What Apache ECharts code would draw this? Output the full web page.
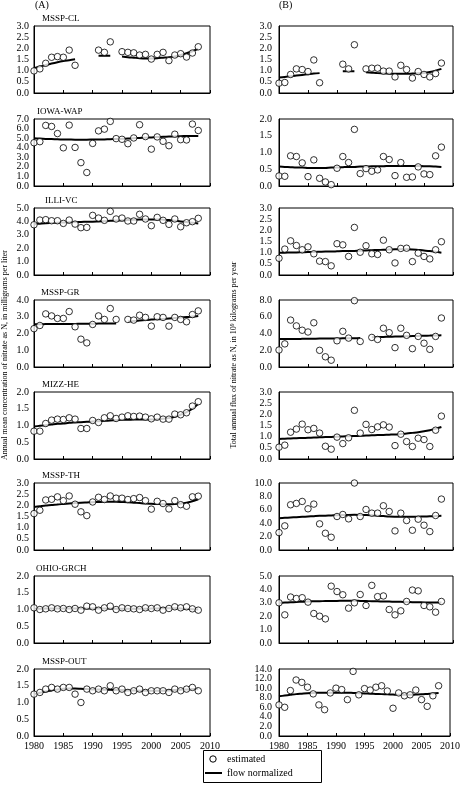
<!DOCTYPE html>
<html><head><meta charset="utf-8">
<script src="https://cdn.jsdelivr.net/npm/echarts@6/dist/echarts.min.js"></script>
<style>html,body{margin:0;padding:0;background:#fff}#c{width:463px;height:790px}</style>
</head><body><div id="c"></div>
<script>
const years = [1980,1981,1982,1983,1984,1985,1986,1987,1988,1989,1990,1991,1992,1993,1994,1995,1996,1997,1998,1999,2000,2001,2002,2003,2004,2005,2006,2007,2008];
const siteNames = ['MSSP-CL','IOWA-WAP','ILLI-VC','MSSP-GR','MIZZ-HE','MSSP-TH','OHIO-GRCH','MSSP-OUT'];
const xTicks = [1980,1985,1990,1995,2000,2005,2010];

// Column A: concentration (mg/L)
const clConc   = [0.99,1.08,1.33,1.6,1.63,1.6,1.92,1.24,null,null,null,1.92,1.82,2.29,null,1.85,1.82,1.8,1.7,1.73,1.52,1.73,1.82,1.45,1.7,1.76,1.61,1.79,2.07];
const clConcFN = [1.11,1.18,1.25,1.32,1.38,1.43,1.47,1.51,null,null,null,1.67,1.67,1.67,null,1.63,1.6,1.58,1.56,1.55,1.55,1.56,1.58,1.6,1.64,1.7,1.78,1.87,1.98];
const iowaConc   = [4.52,4.63,6.33,6.22,5.48,3.99,6.36,4.03,2.44,1.41,4.45,5.76,5.94,6.75,4.95,4.88,4.42,5.02,6.4,5.16,3.85,5.13,4.67,4.21,5.41,4.84,4.81,6.47,5.8];
const iowaConcFN = [4.98,4.95,4.92,4.9,4.88,4.86,4.85,4.84,4.84,4.84,4.85,4.86,4.87,4.89,4.91,4.93,4.96,4.99,5.02,5.05,5.08,5.11,5.14,5.17,5.19,5.21,5.22,5.23,5.23];
const illiConc   = [3.75,4.1,4.13,4.05,4.05,3.85,4.1,3.8,3.53,3.55,4.45,4.25,4.08,4.75,4.18,4.25,4.03,4.03,4.53,4.18,3.68,4.3,4.08,3.78,4.18,3.6,3.9,3.98,4.23];
const illiConcFN = [3.8,3.83,3.86,3.88,3.9,3.92,3.94,3.95,3.96,3.97,3.98,4.0,4.02,4.04,4.06,4.08,4.1,4.12,4.14,4.15,4.15,4.15,4.13,4.1,4.05,4.0,3.95,3.9,3.85];
const grConc   = [2.29,2.48,3.17,3.05,2.9,2.9,3.31,2.4,1.66,1.44,2.54,3.05,2.84,3.49,2.84,null,2.84,2.8,3.09,2.96,2.44,3.0,2.96,2.44,2.96,2.84,2.7,3.13,3.35];
const grConcFN = [2.55,2.55,2.56,2.56,2.56,2.57,2.57,2.57,2.58,2.58,2.58,2.59,2.59,2.6,2.6,null,2.72,2.74,2.77,2.8,2.83,2.85,2.87,2.9,2.92,2.95,2.98,3.01,3.05];
const mizzConc   = [0.83,0.83,1.06,1.16,1.19,1.18,1.23,1.19,0.91,0.91,1.15,1.09,1.23,1.29,1.21,1.25,1.29,1.27,1.28,1.25,1.2,1.25,1.19,1.19,1.34,1.32,1.38,1.58,1.71];
const mizzConcFN = [0.97,0.99,1.01,1.03,1.05,1.06,1.08,1.09,1.1,1.11,1.12,1.13,1.14,1.15,1.16,1.17,1.17,1.18,1.18,1.18,1.18,1.19,1.2,1.22,1.26,1.32,1.4,1.5,1.65];
const thConc   = [1.63,1.78,2.24,2.27,2.38,2.21,2.42,2.05,1.71,1.54,2.15,2.36,2.26,2.42,2.32,2.32,2.26,2.3,2.35,2.21,1.83,2.18,2.08,1.84,2.21,2.03,1.96,2.38,2.41];
const thConcFN = [1.93,1.96,1.99,2.01,2.04,2.06,2.08,2.1,2.12,2.13,2.14,2.15,2.16,2.16,2.16,2.15,2.14,2.12,2.1,2.08,2.07,2.06,2.05,2.05,2.06,2.08,2.12,2.18,2.27];
const ohioConc   = [1.05,1.0,1.02,1.05,1.02,1.03,1.0,1.03,0.98,1.1,1.08,0.98,1.05,1.1,1.0,1.05,1.03,1.02,1.0,1.05,1.03,1.05,0.98,1.03,1.08,1.05,1.08,1.02,0.98];
const ohioConcFN = [1.02,1.02,1.03,1.03,1.03,1.03,1.03,1.03,1.03,1.03,1.03,1.03,1.03,1.03,1.02,1.02,1.02,1.02,1.02,1.02,1.03,1.03,1.04,1.04,1.04,1.03,1.02,1.01,1.0];
const outConc   = [1.25,1.3,1.4,1.45,1.4,1.45,1.45,1.25,1.0,1.4,1.35,1.4,1.35,1.5,1.35,1.4,1.3,1.35,1.4,1.3,1.35,1.35,1.35,1.3,1.4,1.35,1.4,1.45,1.35];
const outConcFN = [1.25,1.29,1.33,1.36,1.39,1.41,1.42,1.42,1.41,1.4,1.39,1.39,1.38,1.38,1.37,1.37,1.36,1.36,1.35,1.35,1.35,1.35,1.35,1.36,1.37,1.38,1.39,1.4,1.41];

// Column B: flux (10^9 kg/yr)
const clFlux   = [0.44,0.47,0.83,1.08,1.05,0.96,1.48,0.46,null,null,null,1.29,1.08,2.16,null,1.08,1.11,1.11,0.98,0.98,0.72,1.24,1.05,0.67,0.96,0.83,0.72,0.87,1.34];
const clFluxFN = [0.69,0.72,0.75,0.78,0.81,0.84,0.87,0.89,null,null,null,0.97,0.97,0.97,null,0.93,0.91,0.89,0.88,0.87,0.86,0.86,0.86,0.87,0.88,0.9,0.94,1.0,1.08];
const iowaFlux   = [0.3,0.29,0.9,0.88,0.69,0.28,0.78,0.23,0.12,0.04,0.53,0.88,0.7,1.69,0.37,0.52,0.44,0.48,0.88,0.79,0.31,0.7,0.26,0.27,0.57,0.36,0.34,0.9,1.16];
const iowaFluxFN = [0.58,0.57,0.56,0.55,0.55,0.54,0.54,0.54,0.54,0.55,0.55,0.56,0.57,0.57,0.58,0.58,0.59,0.59,0.59,0.6,0.6,0.6,0.6,0.6,0.6,0.59,0.59,0.58,0.57];
const illiFlux   = [0.75,1.16,1.53,1.32,1.13,1.26,0.95,0.62,0.6,0.41,1.4,1.35,0.83,2.13,1.02,1.31,0.95,0.92,1.56,1.13,0.54,1.19,1.2,0.6,0.98,0.83,0.72,1.13,1.49];
const illiFluxFN = [1.0,1.0,1.01,1.01,1.02,1.03,1.03,1.04,1.05,1.05,1.06,1.07,1.07,1.08,1.09,1.1,1.11,1.12,1.13,1.14,1.15,1.15,1.15,1.14,1.12,1.1,1.07,1.04,1.0];
const grFlux   = [2.03,2.76,5.6,4.91,4.39,4.18,5.28,1.99,1.22,0.81,3.13,4.26,3.45,7.92,3.05,null,3.53,3.29,4.63,4.1,2.31,4.63,3.78,2.19,3.65,2.84,2.11,3.65,5.85];
const grFluxFN = [3.33,3.34,3.35,3.35,3.36,3.37,3.38,3.39,3.39,3.4,3.41,3.42,3.43,3.44,3.45,null,3.55,3.57,3.59,3.61,3.63,3.65,3.67,3.69,3.71,3.73,3.75,3.77,3.78];
const mizzFlux   = [0.53,0.62,1.2,1.34,1.56,1.31,1.37,1.16,0.57,0.44,0.98,0.69,0.95,2.18,1.16,1.55,1.32,1.44,1.53,1.43,0.6,1.11,0.78,0.56,0.93,0.87,0.56,1.29,1.92];
const mizzFluxFN = [0.9,0.91,0.92,0.93,0.94,0.95,0.96,0.97,0.98,0.99,1.0,1.01,1.02,1.03,1.04,1.05,1.06,1.07,1.08,1.09,1.1,1.12,1.14,1.17,1.2,1.24,1.29,1.35,1.43];
const thFlux   = [2.6,3.6,6.75,6.95,7.25,6.15,6.85,3.9,2.5,1.9,5.0,5.3,4.65,10.0,5.0,6.05,5.5,5.5,6.6,5.75,2.85,5.5,4.4,2.95,4.6,3.7,2.75,5.15,7.6];
const thFluxFN = [4.75,4.8,4.85,4.9,4.95,5.0,5.05,5.1,5.13,5.16,5.19,5.22,5.24,5.25,5.24,5.22,5.18,5.12,5.06,5.0,4.97,4.95,4.95,4.96,4.98,5.0,5.03,5.06,5.1];
const ohioFlux   = [3.0,2.1,3.43,3.32,3.38,3.05,2.2,2.0,1.8,4.24,3.84,3.6,2.6,3.0,3.62,2.8,4.3,3.46,3.51,2.5,2.1,2.4,3.1,3.95,3.89,2.8,2.7,2.3,3.1];
const ohioFluxFN = [3.0,3.02,3.04,3.06,3.08,3.1,3.11,3.12,3.13,3.14,3.14,3.15,3.15,3.15,3.14,3.13,3.12,3.11,3.1,3.09,3.08,3.07,3.06,3.05,3.04,3.03,3.02,3.02,3.02];
const outFlux   = [6.5,6.0,9.5,11.7,11.2,10.2,8.8,6.5,5.5,9.0,10.0,9.7,7.6,13.5,8.6,9.9,9.6,10.2,10.5,9.4,5.8,9.0,8.4,8.6,9.6,7.6,6.2,8.4,10.5];
const outFluxFN = [8.3,8.45,8.6,8.75,8.85,8.95,9.0,9.05,9.05,9.05,9.05,9.05,9.05,9.0,8.95,8.9,8.85,8.8,8.75,8.7,8.65,8.6,8.6,8.6,8.65,8.7,8.8,8.9,9.0];

const concMax = [3,7,5,4,2,3,2,2];
const concStep = [0.5,1,1,1,0.5,0.5,0.5,0.5];
const fluxMax = [3,2,3,8,3,10,5,14];
const fluxStep = [0.5,0.5,0.5,2,0.5,2,1,2];

const concEst = [clConc,iowaConc,illiConc,grConc,mizzConc,thConc,ohioConc,outConc];
const concFN  = [clConcFN,iowaConcFN,illiConcFN,grConcFN,mizzConcFN,thConcFN,ohioConcFN,outConcFN];
const fluxEst = [clFlux,iowaFlux,illiFlux,grFlux,mizzFlux,thFlux,ohioFlux,outFlux];
const fluxFN  = [clFluxFN,iowaFluxFN,illiFluxFN,grFluxFN,mizzFluxFN,thFluxFN,ohioFluxFN,outFluxFN];

const FONT = 'Liberation Serif';
const SERIF = '"Liberation Serif"';
const tops = [26,119,208,300,392,483,576,669];
const PH = 67;
const cols = [{left:34,width:176,labGap:5},{left:279,width:174,labGap:7}];

const grids=[], xAxes=[], yAxes=[], series=[], yInfo=[];
function addPanel(col,row,max,step,est,fn){
  const idx = grids.length;
  yInfo.push({idx, left:cols[col].left, gap:cols[col].labGap, max, step});
  grids.push({left:cols[col].left, top:tops[row], width:cols[col].width, height:PH,
    show:true, borderColor:'#000', borderWidth:1, containLabel:false});
  xAxes.push({gridIndex:idx, type:'value', min:1980, max:2010, interval:5,
    axisLine:{show:true,lineStyle:{color:'#000',width:1}},
    axisTick:{show:true,inside:true,length:3,lineStyle:{color:'#000'}},
    axisLabel:{show: row===7, color:'#000', fontFamily:FONT, fontSize:10, margin:5,
      showMinLabel:true, showMaxLabel:true,
      formatter: v => xTicks.includes(v) ? String(v) : ''},
    splitLine:{show:false}});
  yAxes.push({gridIndex:idx, type:'value', min:0, max:max, interval:step,
    axisLine:{show:true,lineStyle:{color:'#000',width:1}},
    axisTick:{show:false},
    axisLabel:{show:false},
    splitLine:{show:false}});
  series.push({name:'flow normalized', type:'line', xAxisIndex:idx, yAxisIndex:idx,
    data: years.map((y,i)=>[y, fn[i]]), connectNulls:false, smooth:0.3,
    symbol:'none', showSymbol:false, lineStyle:{color:'#000', width:2}, itemStyle:{color:'#000'}, z:2});
  series.push({name:'estimated', type:'scatter', xAxisIndex:idx, yAxisIndex:idx,
    data: years.map((y,i)=>[y, est[i]]).filter(d=>d[1]!==null),
    symbol:'circle', symbolSize:6.5,
    itemStyle:{color:'#fff', borderColor:'#000', borderWidth:1}, z:3});
}
for(let r=0;r<8;r++){
  addPanel(0,r,concMax[r],concStep[r],concEst[r],concFN[r]);
  addPanel(1,r,fluxMax[r],fluxStep[r],fluxEst[r],fluxFN[r]);
}

const chart = echarts.init(document.getElementById('c'), null, {renderer:'canvas'});
chart.setOption({
  animation:false,
  backgroundColor:'#fff',
  grid:grids, xAxis:xAxes, yAxis:yAxes, series:series
});

const titleX = [42,37,45,41,42,42,36,42];
const graphics = [
  {type:'text', x:35, y:5, style:{text:'(A)', font:'10px '+SERIF, fill:'#000', textVerticalAlign:'middle'}},
  {type:'text', x:279, y:5, style:{text:'(B)', font:'10px '+SERIF, fill:'#000', textVerticalAlign:'middle'}},
  {type:'text', x:5, y:355, rotation:Math.PI/2,
    style:{text:'Annual mean concentration of nitrate as N, in milligrams per liter', font:'8px '+SERIF, fill:'#000', textAlign:'center', textVerticalAlign:'middle'}},
  {type:'text', x:234, y:355, rotation:Math.PI/2,
    style:{text:'Total annual flux of nitrate as N, in 10\u2079 kilograms per year', font:'8px '+SERIF, fill:'#000', textAlign:'center', textVerticalAlign:'middle'}},
  // legend
  {type:'rect', shape:{x:203.5, y:750.5, width:118, height:32}, style:{fill:'#fff', stroke:'#000', lineWidth:1}},
  {type:'circle', shape:{cx:213, cy:759, r:3.2}, style:{fill:'#fff', stroke:'#000', lineWidth:1}},
  {type:'text', x:227, y:759, style:{text:'estimated', font:'10px '+SERIF, fill:'#000', textVerticalAlign:'middle'}},
  {type:'line', shape:{x1:205, y1:773, x2:222, y2:773}, style:{stroke:'#000', lineWidth:2}},
  {type:'text', x:227, y:773, style:{text:'flow normalized', font:'10px '+SERIF, fill:'#000', textVerticalAlign:'middle'}}
];
siteNames.forEach((n,r)=>{
  graphics.push({type:'text', x:titleX[r], y:tops[r]-7, style:{text:n, font:'9px '+SERIF, fill:'#000', textVerticalAlign:'middle'}});
});
// y tick labels positioned through each panel's own y axis scale
yInfo.forEach(info=>{
  const n = Math.round(info.max/info.step);
  for(let k=0;k<=n;k++){
    const v = k*info.step;
    const py = chart.convertToPixel({yAxisIndex:info.idx}, v);
    graphics.push({type:'text', x:info.left-info.gap, y:py, silent:true,
      style:{text:v.toFixed(1), font:'10px '+SERIF, fill:'#000', textAlign:'right', textVerticalAlign:'middle'}});
  }
});
chart.setOption({graphic:graphics});
</script></body></html>
